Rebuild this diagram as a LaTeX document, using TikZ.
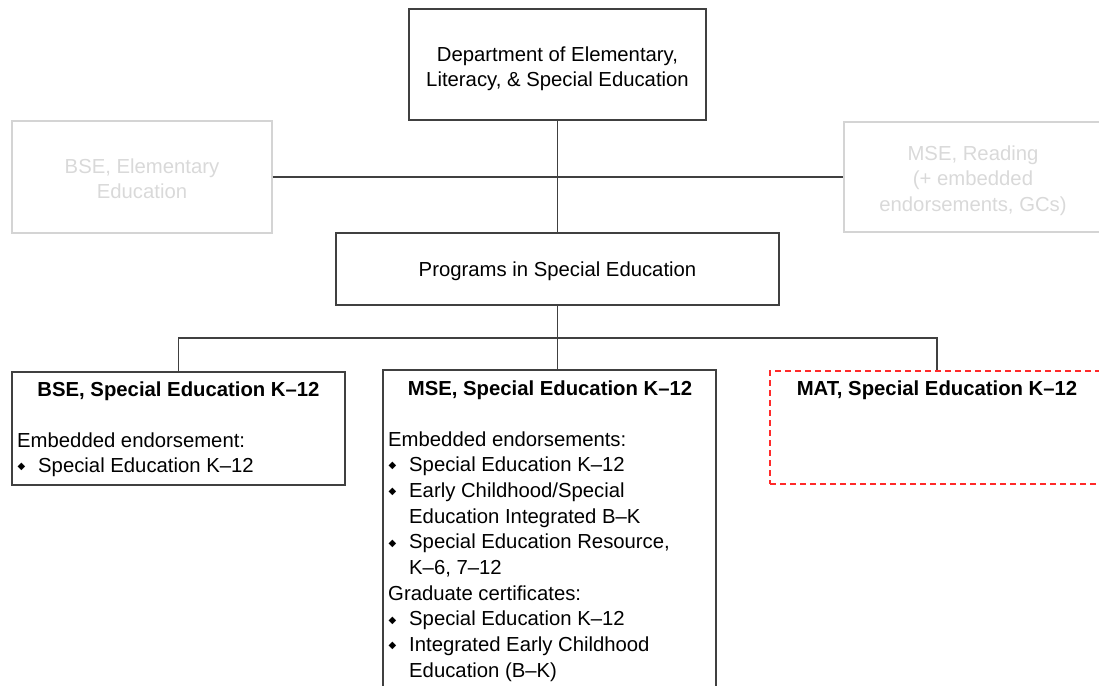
\documentclass[tikz,border=0pt]{standalone}
\usepackage{fontspec}
\setmainfont{Liberation Sans}
\newfontfamily\dejavu{DejaVu Sans}
\definecolor{boxc}{HTML}{404040}
\definecolor{ghostc}{HTML}{D4D4D4}
\definecolor{ghosttext}{HTML}{D9D9D9}
\definecolor{newred}{HTML}{FF2A2A}
\newcommand{\bul}{\makebox[21pt][l]{\hspace{0.3pt}\raisebox{2.8pt}{\dejavu\fontsize{10}{10}\selectfont ◆}}}
\newcommand{\ind}{\hspace*{21pt}}
\newcommand{\tops}[1][24.4pt]{\rule{0pt}{#1}}
\newcommand{\bots}{\rule[-4.3pt]{0pt}{4.3pt}}
\tikzset{
  every node/.style={font=\fontsize{20.3}{25.7}\selectfont},
  box/.style={draw=boxc, line width=1.3pt, rectangle, inner sep=0pt, align=center},
  ghost/.style={draw=ghostc, line width=1.3pt, rectangle, inner sep=0pt, text=ghosttext, align=center},
  emptybox/.style={draw=boxc, line width=1.3pt, rectangle, inner sep=0pt},
  newbox/.style={draw=newred, dash pattern=on 6pt off 4pt, line width=2pt, rectangle, inner sep=0pt},
  conn/.style={draw=boxc, line width=1.3pt},
  ttl/.style={font=\fontsize{20.3}{25.7}\selectfont\bfseries, anchor=base, inner sep=0pt},
  body/.style={align=left, anchor=base west, inner sep=0pt}
}
\begin{document}
\begin{tikzpicture}[x=1pt,y=-1pt]
\useasboundingbox (0,0) rectangle (1099,685);
\clip (0,0) rectangle (1099,685);
% boxes
\node[box, minimum width=297, minimum height=111, font=\fontsize{20.3}{24.5}\selectfont] (dept) at (557.5,64.5)
  {\tops[23pt]Department of Elementary,\\Literacy, \& Special Education\bots};
\node[ghost, minimum width=260, minimum height=112] (gl) at (142,177)
  {\tops[22pt]BSE, Elementary\\Education\bots};
\node[ghost, minimum width=258, minimum height=110] (gr) at (973,177)
  {\tops[22pt]MSE, Reading\\(+ embedded\\endorsements, GCs)\bots};
\node[box, minimum width=443, minimum height=72] (prog) at (557.5,269)
  {\tops[18.4pt]Programs in Special Education\bots};
\node[emptybox, minimum width=333, minimum height=113] (bse) at (178.5,428.5) {};
\node[emptybox, minimum width=333, minimum height=350] (mse) at (549.5,545) {};
\node[newbox, minimum width=334, minimum height=113] (mat) at (937,427.5) {};
% connectors
\coordinate (bus) at (557.5,338);
\draw[conn] (dept.south) -- (prog.north);
\draw[conn] (gl.east) -- (gr.west);
\draw[conn] (prog.south) -- (bus);
\draw[conn] (bus) -| (bse.north);
\draw[conn] (bus) -| (mat.north);
\draw[conn] (bus) -- (bus |- mse.north);
% titles
\node[ttl] (bset) at (178.5,396) {BSE, Special Education K--12};
\node[ttl] (mset) at (550,395) {MSE, Special Education K--12};
\node[ttl] (matt) at (937,395) {MAT, Special Education K--12};
% bodies (base anchor = baseline of the last line)
\node[body] (bseb) at (17,472.7)
  {Embedded endorsement:\\
   \bul Special Education K--12};
\node[body] (mseb) at (388,677.3)
  {Embedded endorsements:\\
   \bul Special Education K--12\\
   \bul Early Childhood/Special\\
   \ind Education Integrated B--K\\
   \bul Special Education Resource,\\
   \ind K--6, 7--12\\
   Graduate certificates:\\
   \bul Special Education K--12\\
   \bul Integrated Early Childhood\\
   \ind Education (B--K)};
\end{tikzpicture}
\end{document}
